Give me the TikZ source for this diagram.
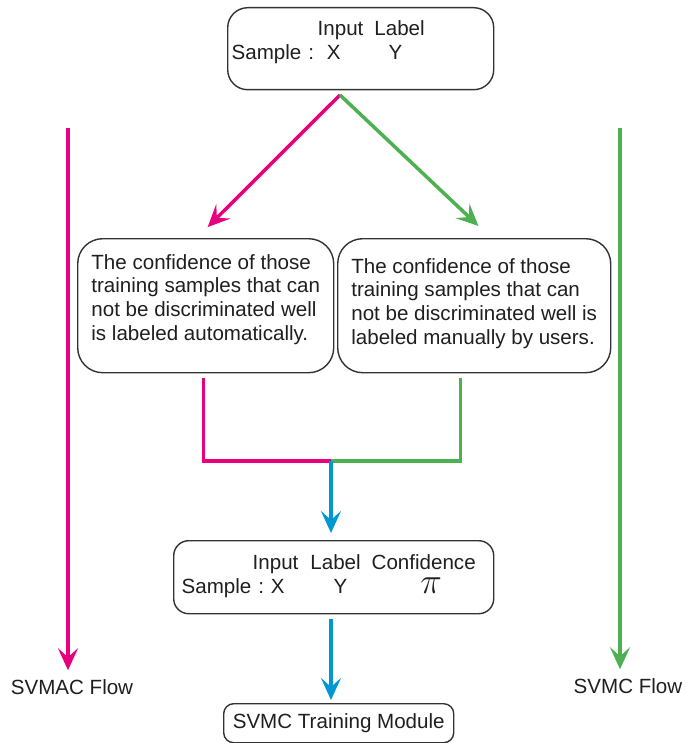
\documentclass[tikz,border=0pt]{standalone}
\usepackage{fontspec}
\setmainfont{Liberation Sans}
\usepackage{tikz}
\usetikzlibrary{arrows.meta}

\definecolor{svmacpink}{HTML}{E6007E}
\definecolor{svmcgreen}{HTML}{4DB051}
\definecolor{flowblue}{HTML}{0098D4}
\definecolor{boxgray}{HTML}{333333}

\begin{document}
\begin{tikzpicture}[x=0.2mm,y=-0.2mm,font=\fontsize{11.7}{13.6}\selectfont,
  box/.style={draw=boxgray,line width=0.8pt,align=left,anchor=north west,inner ysep=0pt,text=black!88},
  lbl/.style={text=black!88},
  wire/.style={line width=2pt},
  flow/.style={wire,-{Stealth[length=4.4mm,width=4mm,inset=1.8mm]}}]
  \useasboundingbox (0,0) rectangle (686,743);
  % boxes
  \node[box,rounded corners=4mm,inner xsep=0.8mm,text width=51.6mm,text height=5.6mm,text depth=10.8mm] (input) at (227,7)
    {\hspace*{17.2mm}Input\hspace{2.2mm}Label\\Sample :\hspace{2.6mm}X\hspace{9.6mm}Y};
  \node[box,rounded corners=5mm,minimum width=51.2mm,text height=20.4mm,text depth=6.4mm] (auto) at (77,238)
    {The confidence of those\\training samples that can\\not be discriminated well\\is labeled automatically.};
  \node[box,rounded corners=5mm,minimum width=54.6mm,text height=21.2mm,text depth=5.6mm] (manual) at (337,238)
    {The confidence of those\\training samples that can\\not be discriminated well is\\labeled manually by users.};
  \node[box,rounded corners=3mm,inner xsep=1.6mm,text width=60.8mm,text height=5.8mm,text depth=8.8mm] (conf) at (173,540)
    {\hspace*{14.2mm}Input\hspace{2.4mm}Label\hspace{2.2mm}Confidence\\Sample :\hspace{1.4mm}X\hspace{9.8mm}Y\hspace{14.6mm}{\fontsize{20}{14}\selectfont$\pi$}};
  \node[box,rounded corners=2mm,align=center,minimum width=46mm,minimum height=7.8mm,inner ysep=0.6mm] (train) at (223,703) {SVMC Training Module};
  \node[lbl] (svmac) at (72,687) {SVMAC Flow};
  \node[lbl] (svmc) at (628,686) {SVMC Flow};
  % split and join
  \coordinate (split) at (340,95);
  \coordinate (join) at (331,461);
  \draw[flow,svmacpink,shorten >=3.1mm] (split) -- ([xshift=-1.8mm]auto.north);
  \draw[flow,svmcgreen,shorten >=3.5mm] (split) -- ([xshift=3.4mm]manual.north);
  \draw[wire,svmacpink] ([xshift=-0.4mm,yshift=-1mm]auto.south) |- (join);
  \draw[wire,svmcgreen] ([xshift=-2.7mm,yshift=-1mm]manual.south) |- (join);
  \draw[flow,flowblue,shorten >=1.4mm] (join) -- (join |- conf.north);
  \draw[flow,flowblue,shorten <=1mm,shorten >=0.6mm] (conf.south -| join) -- (join |- train.north);
  % side flows
  \coordinate (svmactop) at (68,128);
  \coordinate (svmctop) at (620,128);
  \draw[flow,svmacpink,shorten >=0.6mm] (svmactop) -- (svmactop |- svmac.north);
  \draw[flow,svmcgreen,shorten >=0.6mm] (svmctop) -- (svmctop |- svmc.north);
\end{tikzpicture}
\end{document}
